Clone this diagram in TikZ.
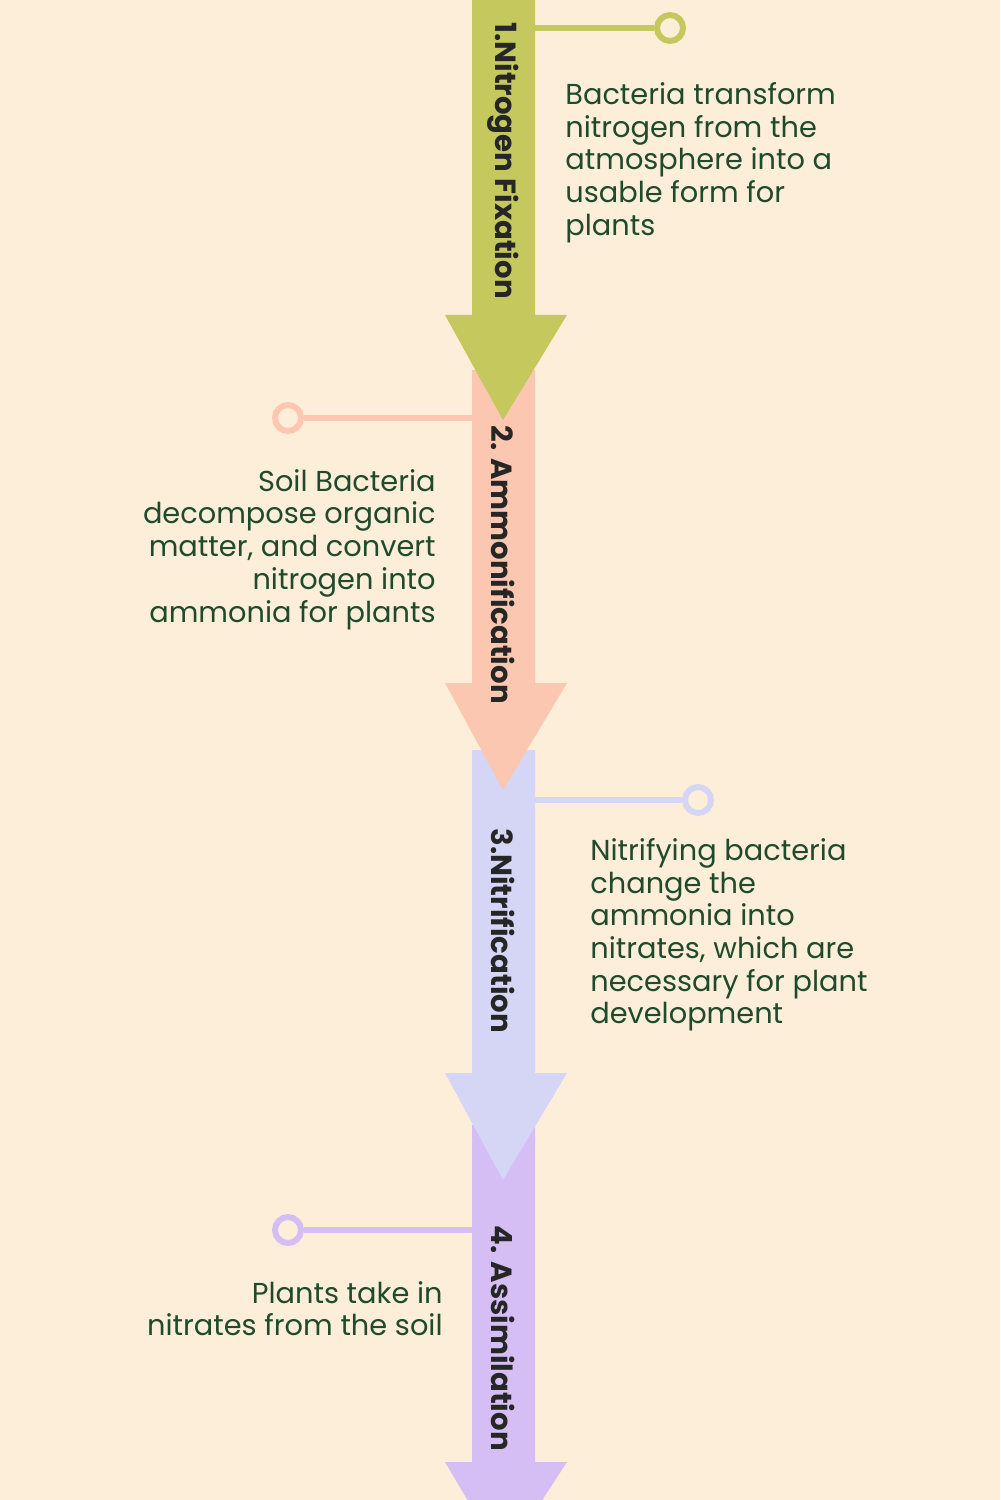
\documentclass[tikz,border=0pt]{standalone}
\usepackage{fontspec}
\setmainfont{Poppins}
\begin{document}
\begin{tikzpicture}[x=0.02cm,y=-0.02cm,
  desc/.style={text=txtc,font=\fontsize{16.4}{18.6}\selectfont,inner sep=0pt},
  ttl/.style={rotate=-90,text=black!85,font=\bfseries\fontsize{16.6}{18}\selectfont,inner sep=0pt},
  ring/.style={circle,draw,line width=3.4pt,inner sep=0pt,minimum size=0.52cm},
  conn/.style={line width=3.4pt}]
\definecolor{bg}{HTML}{FDEEDA}
\definecolor{c1}{HTML}{C5C85C}
\definecolor{c2}{HTML}{FBC7B0}
\definecolor{c3}{HTML}{D5D6F5}
\definecolor{c4}{HTML}{D4BEF4}
\definecolor{txtc}{HTML}{1F4A2B}
\fill[bg] (0,0) rectangle (1000,1500);
\useasboundingbox (0,0) rectangle (1000,1500);
% arrows (drawn bottom-up so upper heads overlap)
\fill[c4] (472,1125) -- (535,1125) -- (535,1462) -- (567,1462) -- (503,1560) -- (445,1462) -- (472,1462) -- cycle;
\fill[c3] (472,750) -- (535,750) -- (535,1073) -- (567,1073) -- (503,1180) -- (445,1073) -- (472,1073) -- cycle;
\fill[c2] (472,370) -- (535,370) -- (535,683) -- (567,683) -- (503,790) -- (445,683) -- (472,683) -- cycle;
\fill[c1] (472,-5) -- (535,-5) -- (535,315) -- (567,315) -- (503,420) -- (445,315) -- (472,315) -- cycle;
% titles
\node[ttl,anchor=west] (t1) at (503,22) {1.Nitrogen Fixation};
\node[ttl,anchor=west] (t2) at (503,425) {2. Ammonification};
\node[ttl,anchor=west] (t3) at (503,828) {3.Nitrification};
\node[ttl,anchor=west] (t4) at (503,1225) {4. Assimilation};
% connectors
\coordinate (s1) at (535,28); \node[ring,draw=c1] (r1) at (670,28) {};
\draw[conn,c1] (s1) -- (r1);
\coordinate (s2) at (472,418); \node[ring,draw=c2] (r2) at (288,418) {};
\draw[conn,c2] (s2) -- (r2);
\coordinate (s3) at (535,800); \node[ring,draw=c3] (r3) at (698,800) {};
\draw[conn,c3] (s3) -- (r3);
\coordinate (s4) at (472,1230); \node[ring,draw=c4] (r4) at (288,1230) {};
\draw[conn,c4] (s4) -- (r4);
% descriptions
\node[desc,anchor=north west,align=left] (d1) at (565,82) {Bacteria transform\\nitrogen from the\\atmosphere into a\\usable form for\\plants};
\node[desc,anchor=north east,align=right] (d2) at (436,469) {Soil Bacteria\\decompose organic\\matter, and convert\\nitrogen into\\ammonia for plants};
\node[desc,anchor=north west,align=left] (d3) at (590,838) {Nitrifying bacteria\\change the\\ammonia into\\nitrates, which are\\necessary for plant\\development};
\node[desc,anchor=north east,align=right] (d4) at (443,1281) {Plants take in\\nitrates from the soil};
\end{tikzpicture}
\end{document}
